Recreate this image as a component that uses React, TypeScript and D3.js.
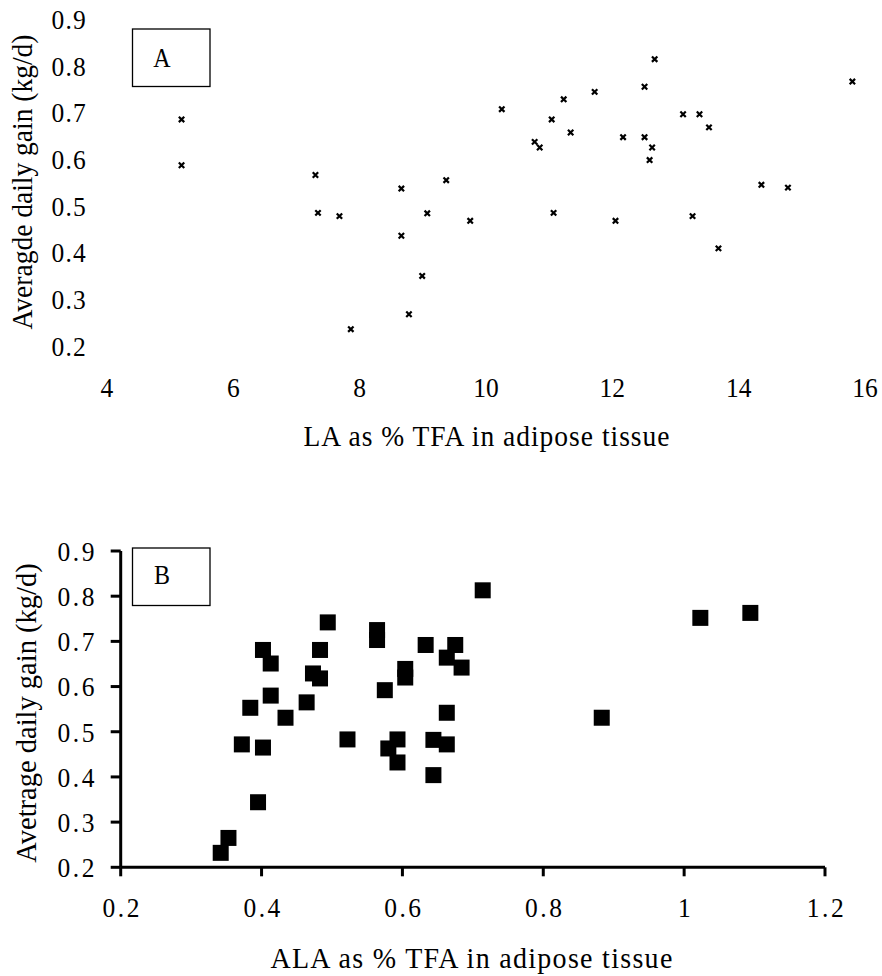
import React from "react";
import * as d3 from "d3";

// Panel A: LA (% TFA) vs ADG
const laX = [5.18, 5.18, 7.30, 7.34, 7.68, 7.86, 8.66, 8.66, 8.78, 8.99, 9.07, 9.37, 9.75, 10.25, 10.77, 10.85, 11.04, 11.07, 11.23, 11.34, 11.72, 12.05, 12.17, 12.51, 12.51, 12.59, 12.63, 12.67, 13.12, 13.27, 13.38, 13.53, 13.68, 14.36, 14.78, 15.80];
const laY = [0.685, 0.587, 0.566, 0.485, 0.478, 0.236, 0.537, 0.436, 0.268, 0.350, 0.484, 0.555, 0.468, 0.707, 0.637, 0.625, 0.685, 0.485, 0.728, 0.657, 0.744, 0.468, 0.647, 0.755, 0.647, 0.598, 0.625, 0.814, 0.696, 0.478, 0.696, 0.668, 0.409, 0.545, 0.539, 0.766];

// Panel B: ALA (% TFA) vs ADG
const alaX = [0.342, 0.353, 0.372, 0.384, 0.395, 0.402, 0.402, 0.413, 0.413, 0.434, 0.464, 0.473, 0.483, 0.483, 0.494, 0.522, 0.564, 0.564, 0.575, 0.580, 0.593, 0.593, 0.604, 0.604, 0.633, 0.644, 0.644, 0.675, 0.663, 0.684, 0.663, 0.663, 0.714, 0.883, 1.023, 1.094];
const alaY = [0.232, 0.265, 0.472, 0.553, 0.344, 0.681, 0.465, 0.651, 0.580, 0.531, 0.565, 0.629, 0.618, 0.681, 0.742, 0.483, 0.725, 0.703, 0.592, 0.463, 0.483, 0.432, 0.639, 0.620, 0.692, 0.482, 0.404, 0.692, 0.664, 0.642, 0.542, 0.472, 0.813, 0.531, 0.752, 0.763];

const yTicks = [0.2, 0.3, 0.4, 0.5, 0.6, 0.7, 0.8, 0.9];
const laTicks = [4, 6, 8, 10, 12, 14, 16];
const alaTicks = [0.2, 0.4, 0.6, 0.8, 1, 1.2];

const FONT = "'Liberation Serif', 'Times New Roman', serif";

type TProps = {
  x: number; y: number; size: number; anchor?: string; ls?: number; sy?: number; rotate?: number; children: React.ReactNode;
};
function T({ x, y, size, anchor = "middle", ls = 0, sy = 1.1, rotate = 0, children }: TProps) {
  return (
    <text
      transform={`translate(${x},${y}) rotate(${rotate}) scale(1,${sy})`}
      dy="0.35em"
      textAnchor={anchor}
      fontSize={size}
      letterSpacing={ls}
      fill="#000"
    >
      {children}
    </text>
  );
}

export default function App() {
  const W = 882, H = 976;

  // Panel A scales
  const xA = d3.scaleLinear().domain([4, 16]).range([107, 865]);
  const yA = d3.scaleLinear().domain([0.2, 0.9]).range([346, 19]);

  // Panel B scales
  const xB = d3.scaleLinear().domain([0.2, 1.2]).range([120.7, 825]);
  const yB = d3.scaleLinear().domain([0.2, 0.9]).range([867.3, 551]);

  const fmt = (v: number) => String(v);

  return (
    <svg width={W} height={H} style={{ position: "absolute", left: 0, top: 0, background: "#fff" }} fontFamily={FONT}>
      <rect x={0} y={0} width={W} height={H} fill="#fff" />
      {/* Panel A */}
      <g>
        {yTicks.map((t) => (
          <T key={"ya" + t} x={87} y={yA(t)} size={25.5} anchor="end" ls={1.2}>
            {fmt(t)}
          </T>
        ))}
        {laTicks.map((t) => (
          <T key={"xa" + t} x={xA(t)} y={387} size={25.5}>
            {fmt(t)}
          </T>
        ))}
        <T x={487} y={436} size={27.5} ls={1} sy={1.08}>
          LA as % TFA in adipose tissue
        </T>
        <T x={22} y={182} size={27.5} rotate={-90} sy={1.05}>
          Averagde daily gain (kg/d)
        </T>
        <rect x={132.5} y={29} width={77.5} height={57.5} fill="#fff" stroke="#000" strokeWidth={1.3} />
        <T x={162} y={58} size={24}>A</T>
        {laX.map((x, i) => {
          const cx = xA(x), cy = yA(laY[i]);
          return (
            <path key={"pa" + i} d={`M${cx - 2.7},${cy - 2.7}L${cx + 2.7},${cy + 2.7}M${cx - 2.7},${cy + 2.7}L${cx + 2.7},${cy - 2.7}`} stroke="#000" strokeWidth={2.2} />
          );
        })}
      </g>

      {/* Panel B */}
      <g>
        <line x1={xB(0.2)} x2={xB(0.2)} y1={yB(0.9)} y2={yB(0.2)} stroke="#000" strokeWidth={3} />
        <line x1={xB(0.2)} x2={xB(1.2)} y1={yB(0.2)} y2={yB(0.2)} stroke="#000" strokeWidth={3} />
        {yTicks.map((t) => (
          <g key={"yb" + t}>
            <line x1={xB(0.2) - 10} x2={xB(0.2)} y1={yB(t)} y2={yB(t)} stroke="#000" strokeWidth={3} />
            <T x={97} y={yB(t)} size={25.5} anchor="end" ls={2.5}>
              {fmt(t)}
            </T>
          </g>
        ))}
        {alaTicks.map((t) => (
          <g key={"xb" + t}>
            <line x1={xB(t)} x2={xB(t)} y1={yB(0.2)} y2={yB(0.2) + 9} stroke="#000" strokeWidth={3} />
            <T x={xB(t) + 1.5} y={907} size={25.5} ls={2.5}>
              {fmt(t)}
            </T>
          </g>
        ))}
        <T x={472} y={958} size={28} ls={1.3} sy={1.05}>
          ALA as % TFA in adipose tissue
        </T>
        <T x={26} y={713} size={28.5} rotate={-90} sy={1.05}>
          Avetrage daily gain (kg/d)
        </T>
        <rect x={132.5} y={548} width={77.5} height={57.5} fill="#fff" stroke="#000" strokeWidth={1.3} />
        <T x={162} y={575} size={24}>B</T>
        {alaX.map((x, i) => {
          const cx = xB(x), cy = yB(alaY[i]);
          return <rect key={"pb" + i} x={cx - 8} y={cy - 8} width={16} height={16} fill="#000" />;
        })}
      </g>
    </svg>
  );
}
